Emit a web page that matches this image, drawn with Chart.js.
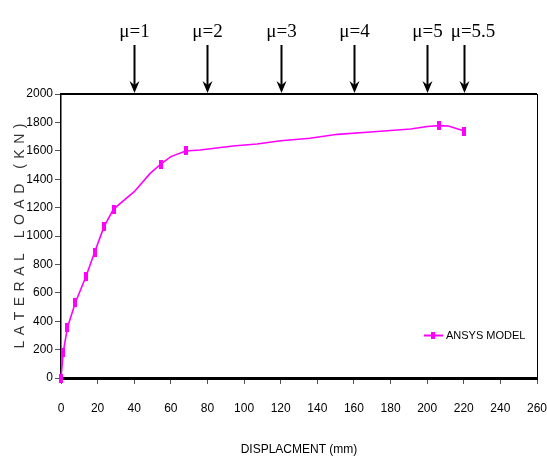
<!DOCTYPE html>
<html>
<head>
<meta charset="utf-8">
<script src="https://cdn.jsdelivr.net/npm/chart.js@4/dist/chart.umd.min.js"></script>
<style>
  html, body { margin: 0; padding: 0; background: #fff; }
  #wrap { width: 547px; height: 462px; position: relative; }
</style>
</head>
<body>
<div id="wrap"><canvas id="myChart" width="547" height="462"></canvas></div>
<script>
'use strict';

// displacement (mm) vs lateral load (kN)
var displacement = [0, 1.2, 3.5, 7.9, 13.6, 18.4, 23.5, 28.7, 40, 48.7, 54.5, 60, 68.1, 76, 94, 107, 120, 136, 151, 169, 191, 200, 206.6, 211.6, 220.3];
var lateralLoad = [0, 178, 354, 533, 713, 887, 1066, 1190, 1312, 1441, 1507, 1559, 1599, 1606, 1634, 1648, 1671, 1688, 1716, 1732, 1754, 1771, 1777, 1775, 1739];
// 1 = point drawn with a marker
var markedPoints = [1, 1, 1, 1, 1, 1, 1, 1, 0, 0, 1, 0, 1, 0, 0, 0, 0, 0, 0, 0, 0, 0, 1, 0, 1];

var seriesName = 'ANSYS MODEL';
var xTitle = 'DISPLACMENT (mm)';
var yTitle = 'LATERAL LOAD (KN)';

var xTicks = [0, 260, 20];
var yTicks = [0, 2000, 200];

var ductilityLabels = ['\u03bc=1', '\u03bc=2', '\u03bc=3', '\u03bc=4', '\u03bc=5', '\u03bc=5.5'];
var ductilityDisp = [40, 80, 120, 160, 200, 220];

var magenta = '#ff00ff';
var sans = '"Liberation Sans", Arial, sans-serif';

function makeMarker(w, h) {
    var c = document.createElement('canvas');
    c.width = w;
    c.height = h;
    var g = c.getContext('2d');
    g.fillStyle = magenta;
    g.fillRect(0, 0, w, h);
    return c;
}

var marker = makeMarker(4, 9);

var points = [];
var radii = [];
for (var i = 0; i < displacement.length; i++) {
    points.push({ x: displacement[i], y: lateralLoad[i] });
    radii.push(markedPoints[i] ? 4 : 0);
}

var extras = {
    id: 'extras',
    afterDraw: function (chart) {
        var ctx = chart.ctx;
        var area = chart.chartArea;
        var xs = chart.scales.x;

        // top and right frame
        ctx.save();
        ctx.strokeStyle = '#000';
        ctx.lineWidth = 2;
        ctx.beginPath();
        ctx.moveTo(area.left, area.top);
        ctx.lineTo(area.right, area.top);
        ctx.stroke();
        ctx.lineWidth = 1;
        ctx.beginPath();
        ctx.moveTo(area.right + 0.5, area.top);
        ctx.lineTo(area.right + 0.5, area.bottom);
        ctx.stroke();

        // ductility arrows
        ctx.font = '19px "Liberation Serif", "Times New Roman", serif';
        ctx.fillStyle = '#000';
        ctx.textBaseline = 'alphabetic';
        ctx.textAlign = 'left';
        var prevRight = -100;
        for (var k = 0; k < ductilityLabels.length; k++) {
            var px = Math.round(xs.getPixelForValue(ductilityDisp[k])) + 0.5;
            var w = ctx.measureText(ductilityLabels[k]).width;
            var left = px - w / 2;
            if (left < prevRight + 8) {
                left = prevRight + 8;
            }
            ctx.fillText(ductilityLabels[k], left, 37);
            prevRight = left + w;

            ctx.lineWidth = 2;
            ctx.beginPath();
            ctx.moveTo(px, 45);
            ctx.lineTo(px, area.top - 8);
            ctx.stroke();
            ctx.beginPath();
            ctx.moveTo(px - 5, area.top - 13);
            ctx.lineTo(px, area.top - 1);
            ctx.lineTo(px + 5, area.top - 13);
            ctx.lineTo(px, area.top - 9);
            ctx.closePath();
            ctx.fill();
        }

        // y title with spaced letters
        ctx.translate(20, (area.top + area.bottom) / 2);
        ctx.rotate(-Math.PI / 2);
        ctx.font = '14px ' + sans;
        ctx.fillStyle = '#333';
        ctx.textBaseline = 'middle';
        var spacing = 5.5;
        var total = 0;
        for (var j = 0; j < yTitle.length; j++) {
            total += ctx.measureText(yTitle[j]).width + (j < yTitle.length - 1 ? spacing : 0);
        }
        var cx = -total / 2;
        for (var m = 0; m < yTitle.length; m++) {
            ctx.fillText(yTitle[m], cx, 0);
            cx += ctx.measureText(yTitle[m]).width + spacing;
        }
        ctx.restore();

        // legend
        ctx.save();
        var ly = 335.5;
        ctx.strokeStyle = magenta;
        ctx.lineWidth = 2;
        ctx.beginPath();
        ctx.moveTo(424, ly);
        ctx.lineTo(443, ly);
        ctx.stroke();
        ctx.fillStyle = magenta;
        ctx.fillRect(431, ly - 3.5, 4, 7);
        ctx.fillStyle = '#000';
        ctx.font = '11px ' + sans;
        ctx.textBaseline = 'middle';
        ctx.fillText(chart.data.datasets[0].label, 446, ly);
        ctx.restore();
    }
};

var ctx = document.getElementById('myChart').getContext('2d');
var chart = new Chart(ctx, {
    type: 'line',
    data: {
        datasets: [{
            label: seriesName,
            data: points,
            borderColor: magenta,
            backgroundColor: magenta,
            borderWidth: 1.6,
            pointStyle: marker,
            pointRadius: radii,
            pointHoverRadius: radii,
            tension: 0,
            fill: false,
            clip: false
        }]
    },
    options: {
        responsive: false,
        animation: false,
        devicePixelRatio: 1,
        layout: { padding: { top: 94, right: 10, left: 0, bottom: 0 } },
        plugins: {
            legend: { display: false },
            tooltip: { enabled: false }
        },
        scales: {
            x: {
                type: 'linear',
                min: xTicks[0],
                max: xTicks[1],
                afterFit: function (scale) {
                    scale.height = 84;
                    scale.paddingLeft = 0;
                    scale.paddingRight = 0;
                },
                ticks: {
                    stepSize: xTicks[2],
                    color: '#000',
                    padding: 17,
                    maxRotation: 0,
                    font: { size: 12, family: sans }
                },
                grid: { drawOnChartArea: false, tickLength: 6, color: '#555' },
                border: { color: '#000', width: 3 },
                title: {
                    display: true,
                    text: xTitle,
                    color: '#000',
                    padding: { top: 0, bottom: 5 },
                    font: { size: 12, family: sans }
                }
            },
            y: {
                type: 'linear',
                min: yTicks[0],
                max: yTicks[1],
                afterFit: function (scale) {
                    scale.width = 61;
                    scale.paddingTop = 0;
                    scale.paddingBottom = 0;
                },
                ticks: {
                    stepSize: yTicks[2],
                    color: '#000',
                    padding: 2,
                    font: { size: 12, family: sans },
                    callback: function (v) { return String(v); }
                },
                grid: { drawOnChartArea: false, tickLength: 6, color: '#555' },
                border: { color: '#000', width: 1.5 }
            }
        }
    },
    plugins: [extras]
});
</script>
</body>
</html>
